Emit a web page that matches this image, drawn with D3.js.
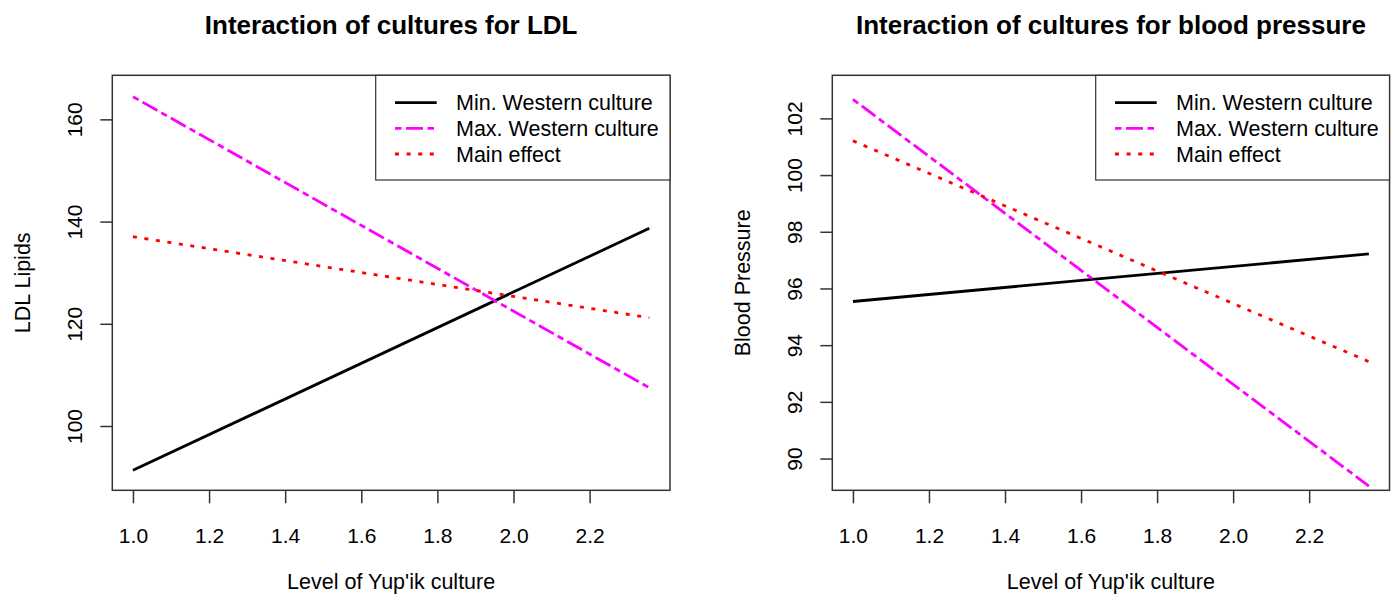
<!DOCTYPE html>
<html>
<head>
<meta charset="utf-8">
<script src="https://cdn.jsdelivr.net/npm/d3@7"></script>
<style>
  html, body { margin: 0; padding: 0; background: #fff; }
  svg { display: block; }
  text { font-family: "Liberation Sans", Arial, Helvetica, sans-serif; fill: #000; }
</style>
</head>
<body>
<svg id="chart" width="1395" height="595"></svg>
<script>
// ---- data ----
const xLevels = [1.0, 2.357];               // Level of Yup'ik culture (min, max)
const seriesNames = ["Min. Western culture", "Max. Western culture", "Main effect"];
const ldlMin  = [91.33, 138.68];
const ldlMax  = [164.43, 107.49];
const ldlMain = [137.04, 121.19];
const bpMin   = [95.54, 97.22];
const bpMax   = [102.67, 89.03];
const bpMain  = [101.21, 93.42];
const xTicks  = [1.0, 1.2, 1.4, 1.6, 1.8, 2.0, 2.2];
const ldlTicks = [100, 120, 140, 160];
const bpTicks  = [90, 92, 94, 96, 98, 100, 102];
const titles = ["Interaction of cultures for LDL", "Interaction of cultures for blood pressure"];
const yTitles = ["LDL Lipids", "Blood Pressure"];
const xTitle = "Level of Yup'ik culture";

// ---- styles ----
const styles = [
  { color: "#000000", dash: null },
  { color: "#ff00ff", dash: "6.5,4.5,17,4.5" },
  { color: "#ff0000", dash: "4,7.6" }
];
const lw = 2.8;
const fs = 21.5;
const tickFs = 21;

const svg = d3.select("#chart");

const panels = [
  { left: 112.3, right: 670, series: [ldlMin, ldlMax, ldlMain], yDomain: [87.42, 168.62], yTicks: ldlTicks, tickLabX: 81.5, yTitleX: 29.5 },
  { left: 832.3, right: 1389.5, series: [bpMin, bpMax, bpMain], yDomain: [88.88, 103.52], yTicks: bpTicks, tickLabX: 801.5, yTitleX: 749.5 }
];
const plotTop = 75.3, plotBottom = 490.3;

panels.forEach((p, i) => {
  const x = d3.scaleLinear().domain([0.9457, 2.4113]).range([p.left, p.right]);
  const y = d3.scaleLinear().domain(p.yDomain).range([plotBottom, plotTop]);
  const g = svg.append("g");

  // lines
  const line = d3.line().x((d, k) => x(xLevels[k])).y(d => y(d));
  p.series.forEach((s, k) => {
    g.append("path")
      .datum(s)
      .attr("d", line)
      .attr("fill", "none")
      .attr("stroke", styles[k].color)
      .attr("stroke-width", lw)
      .attr("stroke-dasharray", styles[k].dash)
      .attr("stroke-linecap", "butt");
  });

  // box
  g.append("rect")
    .attr("x", p.left).attr("y", plotTop)
    .attr("width", p.right - p.left).attr("height", plotBottom - plotTop)
    .attr("fill", "none").attr("stroke", "#333").attr("stroke-width", 1.5);

  // x axis
  const xAxis = d3.axisBottom(x).tickValues(xTicks).tickFormat(d3.format(".1f")).tickSize(13).tickSizeOuter(0);
  const xa = g.append("g").attr("transform", `translate(0,${plotBottom})`).call(xAxis);
  xa.select(".domain").remove();
  xa.selectAll(".tick line").attr("stroke", "#333").attr("stroke-width", 1.5);
  xa.selectAll(".tick text").attr("font-size", tickFs).attr("dy", null).attr("y", 52.5)
    .attr("font-family", "Liberation Sans, Arial, sans-serif").attr("fill", "#000");

  // y axis
  const yAxis = d3.axisLeft(y).tickValues(p.yTicks).tickSize(12).tickSizeOuter(0);
  const ya = g.append("g").attr("transform", `translate(${p.left},0)`).call(yAxis);
  ya.select(".domain").remove();
  ya.selectAll(".tick line").attr("stroke", "#333").attr("stroke-width", 1.5);
  ya.selectAll(".tick text").remove();
  ya.selectAll(".tick").append("text")
    .attr("transform", `translate(${p.tickLabX - p.left},0) rotate(-90)`)
    .attr("text-anchor", "middle")
    .attr("font-size", tickFs)
    .attr("font-family", "Liberation Sans, Arial, sans-serif")
    .attr("fill", "#000")
    .text(d => d);

  // titles
  const cx = (p.left + p.right) / 2;
  svg.append("text").attr("x", cx).attr("y", 34).attr("text-anchor", "middle")
    .attr("font-size", 26).attr("font-weight", "bold").text(titles[i]);
  svg.append("text").attr("x", cx).attr("y", 588.5).attr("text-anchor", "middle")
    .attr("font-size", fs).text(xTitle);
  svg.append("text").attr("transform", `translate(${p.yTitleX},${(plotTop + plotBottom) / 2}) rotate(-90)`)
    .attr("text-anchor", "middle").attr("font-size", fs).text(yTitles[i]);

  // legend
  const legLeft = p.left + 263.4;
  const legBottom = 180;
  g.append("rect").attr("x", legLeft).attr("y", plotTop)
    .attr("width", p.right - legLeft).attr("height", legBottom - plotTop)
    .attr("fill", "#fff").attr("stroke", "#333").attr("stroke-width", 1.2);
  const rowY = [102.7, 128.3, 154];
  seriesNames.forEach((name, k) => {
    g.append("line")
      .attr("x1", legLeft + 19.3).attr("x2", legLeft + 61)
      .attr("y1", rowY[k]).attr("y2", rowY[k])
      .attr("stroke", styles[k].color).attr("stroke-width", lw)
      .attr("stroke-dasharray", styles[k].dash);
    g.append("text").attr("x", legLeft + 80.3).attr("y", rowY[k]).attr("dy", "0.36em")
      .attr("font-size", fs).text(name);
  });
});
</script>
</body>
</html>
